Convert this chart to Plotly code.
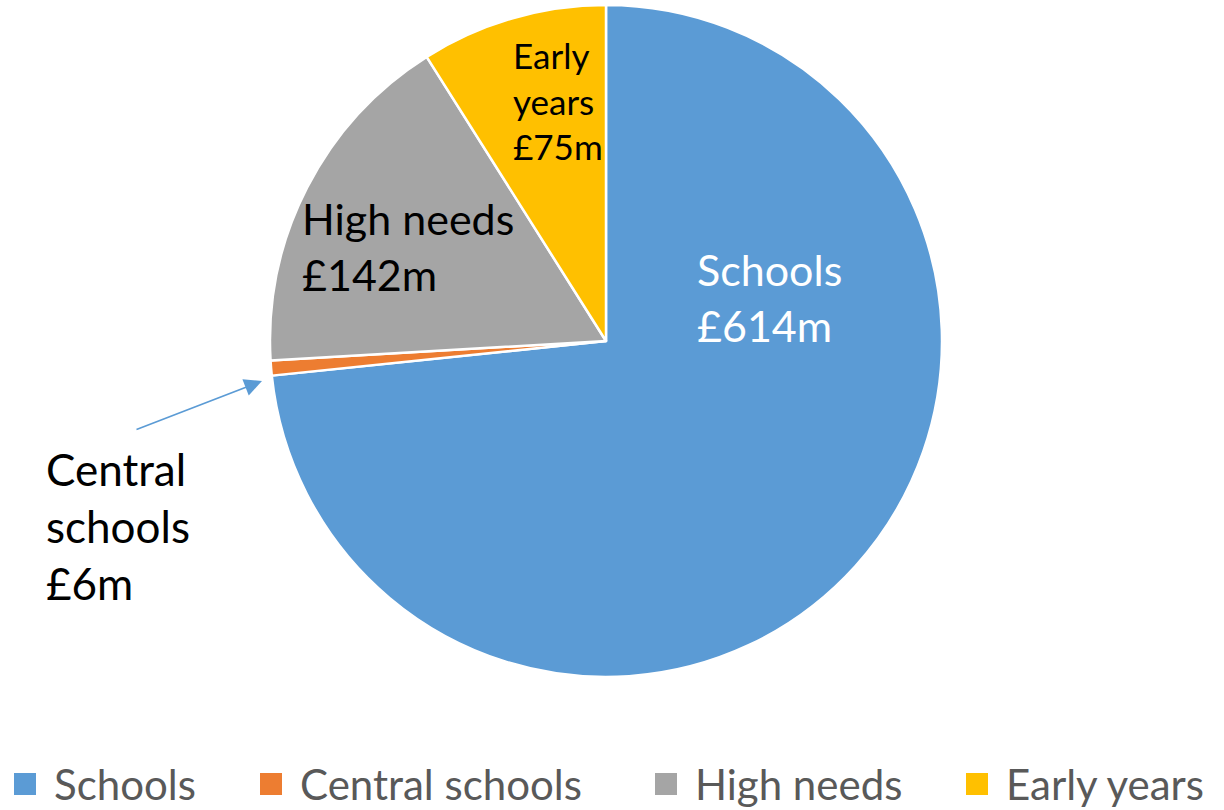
import plotly.graph_objects as go

# Funding blocks (£m)
categories = ["Schools", "Central schools", "High needs", "Early years"]
values = [614, 6, 142, 75]
colors = ["#5B9BD5", "#ED7D31", "#A5A5A5", "#FFC000"]

W, H = 1224, 810
cx, cy, r = 606, 341, 336  # pie centre and domain half-size in pixels


def px(x):
    return x / W


def py(y):
    return 1 - y / H


fig = go.Figure(
    go.Pie(
        labels=categories,
        values=values,
        sort=False,
        direction="clockwise",
        rotation=0,
        textinfo="none",
        hoverinfo="label+value",
        showlegend=False,
        marker=dict(colors=colors, line=dict(color="white", width=2.5)),
        domain=dict(x=[px(cx - r), px(cx + r)], y=[py(cy + r), py(cy - r)]),
    )
)

font_family = "Lato, 'Open Sans', sans-serif"
annotations = [
    dict(x=px(695), y=py(297), text="Schools<br>£614m", xanchor="left",
         align="left", font=dict(size=43, color="white")),
    dict(x=px(300), y=py(247), text="High needs<br>£142m", xanchor="left",
         align="left", font=dict(size=43, color="black")),
    dict(x=px(511), y=py(101), text="Early<br>years<br>£75m", xanchor="left",
         align="left", font=dict(size=35, color="black")),
    dict(x=px(44), y=py(526), text="Central<br>schools<br>£6m", xanchor="left",
         align="left", font=dict(size=44, color="black")),
]
for a in annotations:
    a.update(xref="paper", yref="paper", showarrow=False, yanchor="middle")
    a["font"]["family"] = font_family

# Pointer from the Central schools label to its thin slice
annotations.append(dict(
    x=px(262), y=py(381), xref="paper", yref="paper",
    ax=135 - 262, ay=430 - 381, axref="pixel", ayref="pixel",
    showarrow=True, arrowhead=2, arrowsize=2.2, arrowwidth=1.6,
    arrowcolor="#5B9BD5", text="",
))

# Legend row along the bottom: coloured square + label per category
legend_x = [14, 260, 655, 966]
legend_y = 784
sq = 22
shapes = []
for name, col, lx in zip(categories, colors, legend_x):
    shapes.append(dict(
        type="rect", xref="paper", yref="paper",
        x0=px(lx), x1=px(lx + sq), y0=py(legend_y + sq / 2), y1=py(legend_y - sq / 2),
        fillcolor=col, line=dict(width=0),
    ))
    annotations.append(dict(
        x=px(lx + 38), y=py(legend_y), xref="paper", yref="paper",
        text=name, showarrow=False, xanchor="left", yanchor="middle",
        font=dict(family=font_family, size=42, color="#595959"),
    ))

fig.update_layout(
    width=W, height=H,
    margin=dict(l=0, r=0, t=0, b=0),
    paper_bgcolor="white",
    annotations=annotations,
    shapes=shapes,
    showlegend=False,
)

fig.write_html("out.html")
